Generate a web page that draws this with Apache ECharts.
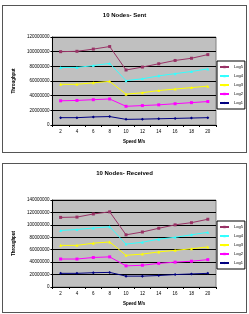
<!DOCTYPE html>
<html>
<head>
<meta charset="utf-8">
<script src="https://cdn.jsdelivr.net/npm/echarts@6/dist/echarts.min.js"></script>
<style>
  body { margin: 0; background: #fff; }
  .box { position: absolute; left: 2px; width: 243px; border: 1px solid #555; background: #fff; }
</style>
</head>
<body>
<div id="sent" class="box" style="top:5px;height:146px;"></div>
<div id="recv" class="box" style="top:163px;height:148px;"></div>
<script>
var speeds = ['2', '4', '6', '8', '10', '12', '14', '16', '18', '20'];
var seriesNames = ['Log5', 'Log4', 'Log3', 'Log2', 'Log1'];
var colors = ['#993366', '#33FFFF', '#FFFF00', '#FF00FF', '#000080'];
var symbols = ['rect', 'triangle', 'triangle', 'rect', 'diamond'];

// sent throughput
var sentLog5 = [100000000, 100500000, 103500000, 107000000, 75000000, 79000000, 83500000, 88000000, 91000000, 96000000];
var sentLog4 = [78500000, 78500000, 81000000, 84000000, 60500000, 63000000, 67000000, 70000000, 73000000, 76500000];
var sentLog3 = [55500000, 55500000, 57500000, 59500000, 42000000, 44000000, 47000000, 49000000, 51000000, 53000000];
var sentLog2 = [33000000, 33500000, 34500000, 35500000, 25500000, 26500000, 27500000, 29000000, 30500000, 32000000];
var sentLog1 = [10000000, 10000000, 11000000, 11500000, 7700000, 8000000, 8500000, 9000000, 9500000, 10000000];

// received throughput
var recvLog5 = [112000000, 112500000, 117500000, 121000000, 84000000, 88500000, 94500000, 100000000, 103500000, 109000000];
var recvLog4 = [91000000, 92500000, 95000000, 97000000, 69000000, 72000000, 77000000, 80000000, 84000000, 88000000];
var recvLog3 = [67000000, 67000000, 70500000, 72500000, 51000000, 53000000, 56500000, 59000000, 61500000, 64500000];
var recvLog2 = [45000000, 45000000, 47500000, 48500000, 34000000, 35000000, 38000000, 40000000, 41500000, 44000000];
var recvLog1 = [22000000, 22000000, 23000000, 23500000, 17500000, 17500000, 18500000, 20000000, 21000000, 22000000];

var small = { fontFamily: 'Liberation Sans', fontSize: 4.5, color: '#000' };

function makeOption(title, data, yMax, gridTop, gridBottom, legendTop) {
    return {
        animation: false,
        title: {
            text: title, left: 'center', top: 1,
            textStyle: { fontFamily: 'Liberation Sans', fontSize: 6, fontWeight: 'bold', color: '#000' }
        },
        legend: {
            orient: 'vertical', left: 214, top: legendTop,
            data: seriesNames,
            itemWidth: 9, itemHeight: 3, itemGap: 5,
            padding: [4, 2, 4, 2],
            borderColor: '#000', borderWidth: 1,
            textStyle: { fontFamily: 'Liberation Sans', fontSize: 4, color: '#000' }
        },
        grid: {
            left: 43, right: 30, top: gridTop, bottom: gridBottom,
            show: true, backgroundColor: '#C0C0C0', borderColor: '#808080', borderWidth: 1
        },
        xAxis: {
            type: 'category', data: speeds, boundaryGap: true,
            name: 'Speed M/s', nameLocation: 'middle', nameGap: 12,
            nameTextStyle: { fontFamily: 'Liberation Sans', fontSize: 4.5, fontWeight: 'bold', color: '#000' },
            axisLine: { lineStyle: { color: '#000', width: 1 } },
            axisTick: { show: true, length: 2, lineStyle: { color: '#000' } },
            axisLabel: Object.assign({ margin: 4 }, small)
        },
        yAxis: {
            type: 'value', min: 0, max: yMax, interval: 20000000,
            name: 'Throughput', nameLocation: 'middle', nameGap: 32, nameRotate: 90,
            nameTextStyle: { fontFamily: 'Liberation Sans', fontSize: 4.5, fontWeight: 'bold', color: '#000' },
            axisLine: { show: true, lineStyle: { color: '#000', width: 1 } },
            axisTick: { show: true, length: 2, lineStyle: { color: '#000' } },
            axisLabel: Object.assign({ margin: 3, formatter: function (v) { return String(v); } }, small),
            splitLine: { lineStyle: { color: '#000', width: 1 } }
        },
        series: seriesNames.map(function (name, i) {
            return {
                name: name, type: 'line', data: data[i],
                symbol: symbols[i], symbolSize: 3, showAllSymbol: true,
                lineStyle: { color: colors[i], width: 1 },
                itemStyle: { color: colors[i] }
            };
        })
    };
}

var sentChart = echarts.init(document.getElementById('sent'));
sentChart.setOption(makeOption('10 Nodes- Sent',
    [sentLog5, sentLog4, sentLog3, sentLog2, sentLog1], 120000000, 31, 27, 55));

var recvChart = echarts.init(document.getElementById('recv'));
recvChart.setOption(makeOption('10 Nodes- Received',
    [recvLog5, recvLog4, recvLog3, recvLog2, recvLog1], 140000000, 36, 25, 57));
</script>
</body>
</html>
